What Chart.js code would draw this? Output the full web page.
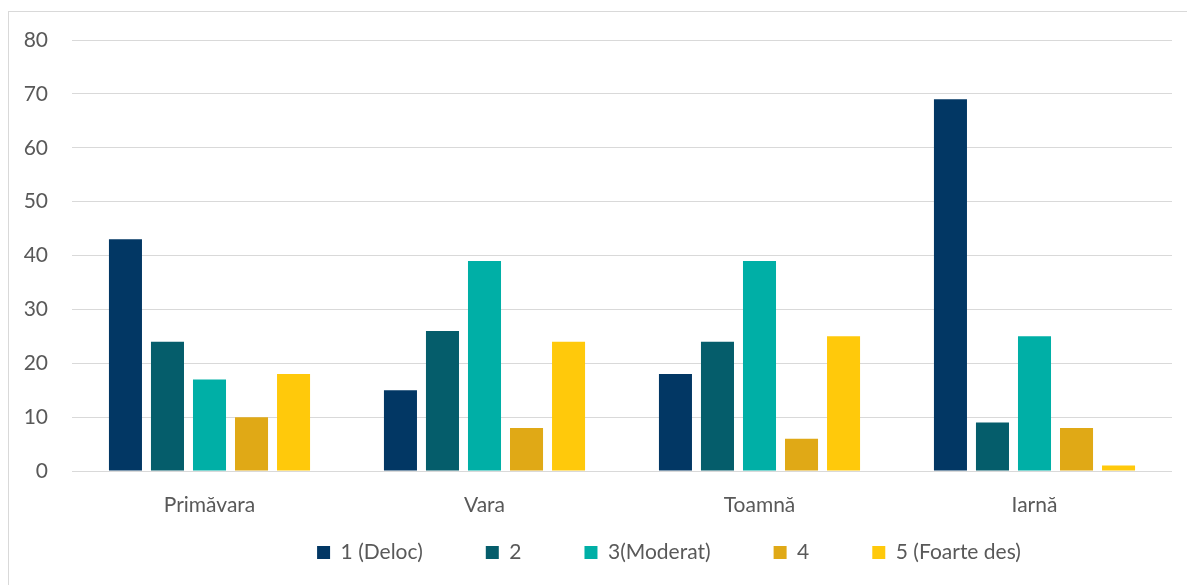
<!DOCTYPE html>
<html>
<head>
<meta charset="utf-8">
<script src="https://cdn.jsdelivr.net/npm/chart.js@4/dist/chart.umd.min.js"></script>
<style>
    body { margin: 0; background: #fff; overflow: hidden; }
    #frame {
        position: absolute;
        left: 8px;
        top: 11px;
        width: 1400px;
        height: 800px;
        border: 1px solid #d9d9d9;
    }
    #chart { position: absolute; left: 0; top: 0; }
</style>
</head>
<body>
<div id="frame"></div>
<canvas id="chart" width="1187" height="585"></canvas>
<script>
const seasons = ['Primăvara', 'Vara', 'Toamnă', 'Iarnă'];
const seriesNames = ['1 (Deloc)', '2', '3(Moderat)', '4', '5 (Foarte des)'];
const seriesColors = ['#023764', '#055D6B', '#00AFA6', '#E0A916', '#FFC90B'];

const deloc = [43, 15, 18, 69];
const doi = [24, 26, 24, 9];
const moderat = [17, 39, 39, 25];
const patru = [10, 8, 6, 8];
const foarteDes = [18, 24, 25, 1];

const yTicks = [0, 10, 20, 30, 40, 50, 60, 70, 80];

const TEXT = '#595959';
const FONT = 'Lato';
const SIZE = 21;

// the wide item spacing pushes the legend down, so pull its top edge up (and move it a bit right)
const legendShift = {
    id: 'legendShift',
    afterLayout(chart) {
        const lg = chart.legend;
        lg.left += 83;
        lg.right += 83;
        lg.top -= 44;
    }
};

const values = [deloc, doi, moderat, patru, foarteDes];

new Chart(document.getElementById('chart').getContext('2d'), {
    type: 'bar',
    data: {
        labels: seasons,
        datasets: seriesNames.map((name, i) => ({
            label: name,
            data: values[i],
            backgroundColor: seriesColors[i],
            barPercentage: 0.786,
            categoryPercentage: 0.764
        }))
    },
    options: {
        responsive: false,
        animation: false,
        devicePixelRatio: 1,
        layout: {
            padding: { left: 0, right: 15, top: 40, bottom: 0 }
        },
        scales: {
            x: {
                grid: { display: false, drawTicks: false },
                border: { display: false },
                ticks: {
                    color: TEXT,
                    font: { family: FONT, size: SIZE },
                    padding: 22
                },
                afterFit(scale) {
                    scale.height = 52;
                }
            },
            y: {
                min: 0,
                max: 80,
                afterBuildTicks(scale) {
                    scale.ticks = yTicks.map(v => ({ value: v }));
                },
                grid: { color: '#d9d9d9', lineWidth: 1, drawTicks: false },
                border: { display: false },
                ticks: {
                    color: TEXT,
                    font: { family: FONT, size: SIZE },
                    padding: 24
                },
                afterFit(scale) {
                    scale.width = 72;
                }
            }
        },
        plugins: {
            legend: {
                position: 'bottom',
                maxHeight: 62,
                labels: {
                    color: TEXT,
                    font: { family: FONT, size: SIZE },
                    boxWidth: 13,
                    boxHeight: 13,
                    padding: 63
                }
            },
            tooltip: { enabled: false }
        }
    },
    plugins: [legendShift]
});
</script>
</body>
</html>
